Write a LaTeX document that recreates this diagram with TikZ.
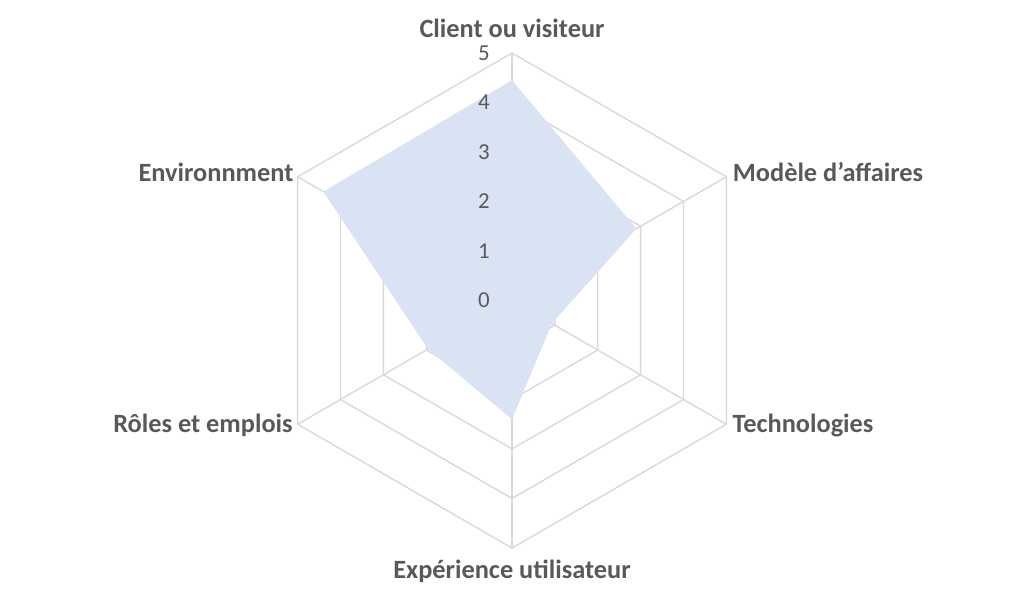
\documentclass[tikz,border=0pt]{standalone}
\usepackage{fontspec}
\setmainfont{Carlito}
\usetikzlibrary{calc}
\definecolor{grid}{RGB}{217,217,217}
\definecolor{fillc}{RGB}{218,227,243}
\definecolor{txt}{RGB}{89,89,89}
\begin{document}
\begin{tikzpicture}[x=0.02cm,y=-0.02cm,
  lab/.style={font=\fontsize{15}{17}\selectfont\bfseries,text=txt},
  num/.style={font=\fontsize{13}{15}\selectfont,text=txt}]
\useasboundingbox (0,0) rectangle (1024,598);
\coordinate (c) at (512,300.5);
\def\R{49.5}
\foreach \k in {1,...,5}{
  \draw[grid,line width=0.8pt] ($(c)+(-90:\k*\R)$)
    \foreach \a in {-30,30,90,150,210}{ -- ($(c)+(\a:\k*\R)$)} -- cycle;
}
\foreach \a in {-90,-30,30,90,150,210}
  \draw[grid,line width=0.8pt] (c) -- ($(c)+(\a:5*\R)$);
\fill[fillc] ($(c)+(-90:4.45*\R)$) -- ($(c)+(-30:2.9*\R)$) -- ($(c)+(30:0.93*\R)$)
  -- ($(c)+(90:2.4*\R)$) -- ($(c)+(150:1.96*\R)$) -- ($(c)+(210:4.4*\R)$) -- cycle;
\foreach \k in {0,...,5}
  \node[num] (n\k) at ($(c)+(-28,-\k*\R)$) {\k};
\node[lab] (l1) at (512,28) {Client ou visiteur};
\node[lab] (l2) at (828,172) {Modèle d\char"27affaires};
\node[lab] (l3) at (803,425) {Technologies};
\node[lab] (l4) at (512,571) {Expérience utilisateur};
\node[lab] (l5) at (203,425) {Rôles et emplois};
\node[lab] (l6) at (216,172) {Environnment};
\end{tikzpicture}
\end{document}
